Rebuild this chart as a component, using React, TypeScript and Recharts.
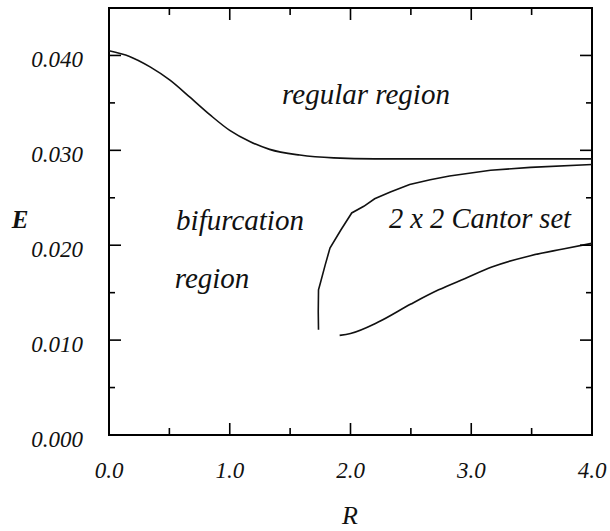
import { LineChart, Line, XAxis, YAxis, ReferenceArea } from "recharts";

// upper boundary (regular / bifurcation)
const regularEdge = [
  { R: 0.0, E: 0.0405 },
  { R: 0.17, E: 0.0399 },
  { R: 0.34, E: 0.0388 },
  { R: 0.505, E: 0.0374 },
  { R: 0.67, E: 0.0356 },
  { R: 0.84, E: 0.0337 },
  { R: 1.0, E: 0.0321 },
  { R: 1.17, E: 0.0309 },
  { R: 1.33, E: 0.0301 },
  { R: 1.58, E: 0.0295 },
  { R: 1.86, E: 0.0292 },
  { R: 2.2, E: 0.0291 },
  { R: 3.0, E: 0.0291 },
  { R: 4.0, E: 0.0291 },
];

// upper Cantor-set boundary
const cantorUpper = [
  { R: 1.735, E: 0.0111 },
  { R: 1.733, E: 0.013 },
  { R: 1.735, E: 0.0153 },
  { R: 1.75, E: 0.016 },
  { R: 1.79, E: 0.0179 },
  { R: 1.83, E: 0.0197 },
  { R: 1.92, E: 0.0216 },
  { R: 2.01, E: 0.0234 },
  { R: 2.11, E: 0.0241 },
  { R: 2.2, E: 0.0249 },
  { R: 2.33, E: 0.0256 },
  { R: 2.49, E: 0.0264 },
  { R: 2.66, E: 0.0269 },
  { R: 2.82, E: 0.0273 },
  { R: 3.16, E: 0.0279 },
  { R: 3.49, E: 0.0282 },
  { R: 4.0, E: 0.0285 },
];

// lower Cantor-set boundary
const cantorLower = [
  { R: 1.91, E: 0.0105 },
  { R: 2.0, E: 0.0107 },
  { R: 2.23, E: 0.0119 },
  { R: 2.5, E: 0.0138 },
  { R: 2.73, E: 0.0153 },
  { R: 2.95, E: 0.0165 },
  { R: 3.17, E: 0.0177 },
  { R: 3.49, E: 0.0189 },
  { R: 3.76, E: 0.0196 },
  { R: 4.0, E: 0.0202 },
];

const xTicks = [0, 0.5, 1, 1.5, 2, 2.5, 3, 3.5, 4];
const yTicks = [0, 0.005, 0.01, 0.015, 0.02, 0.025, 0.03, 0.035, 0.04];

const PLOT = { left: 109, right: 592, top: 8, bottom: 435 };
const FONT = "'Liberation Serif', 'DejaVu Serif', serif";

const XTick = (props: any) => {
  const { x, payload } = props;
  const v = payload.value;
  const major = Math.abs(v - Math.round(v)) < 1e-6;
  const len = major ? 12 : 7;
  return (
    <g>
      <line x1={x} x2={x} y1={PLOT.bottom} y2={PLOT.bottom - len} stroke="#000" strokeWidth={1.6} />
      <line x1={x} x2={x} y1={PLOT.top} y2={PLOT.top + len} stroke="#000" strokeWidth={1.6} />
      {major && (
        <text x={x} y={PLOT.bottom + 35} textAnchor="middle" dominantBaseline="central"
          fontFamily={FONT} fontStyle="italic" fontSize={23} fill="#111">
          {v.toFixed(1)}
        </text>
      )}
    </g>
  );
};

const YTick = (props: any) => {
  const { y, payload } = props;
  const v = payload.value;
  const major = Math.round(v * 1000) % 10 === 0;
  const len = major ? 12 : 6;
  return (
    <g>
      <line x1={PLOT.left} x2={PLOT.left + len} y1={y} y2={y} stroke="#000" strokeWidth={1.6} />
      <line x1={PLOT.right} x2={PLOT.right - len} y1={y} y2={y} stroke="#000" strokeWidth={1.6} />
      {major && (
        <text x={83} y={y + 4} textAnchor="end" dominantBaseline="central"
          fontFamily={FONT} fontStyle="italic" fontSize={23} fill="#111">
          {v.toFixed(3)}
        </text>
      )}
    </g>
  );
};

const Label = ({ x, y, size, bold, children }: any) => (
  <text x={x} y={y} textAnchor="middle" dominantBaseline="central" fontSize={size}
    fontFamily={FONT} fontStyle="italic" fontWeight={bold ? "bold" : "normal"} fill="#111">
    {children}
  </text>
);

export default function App() {
  return (
    <div style={{ position: "absolute", left: 0, top: 0, background: "#fff" }}>
      <LineChart width={610} height={531} margin={{ top: 8, right: 18, bottom: 0, left: 0 }}>
        <XAxis
          type="number"
          dataKey="R"
          domain={[0, 4]}
          ticks={xTicks}
          height={96}
          axisLine={false}
          tickLine={false}
          tick={XTick}
          interval={0}
        />
        <YAxis
          type="number"
          dataKey="E"
          domain={[0, 0.045]}
          ticks={yTicks}
          width={109}
          axisLine={false}
          tickLine={false}
          tick={YTick}
          interval={0}
        />
        <ReferenceArea x1={0} x2={4} y1={0} y2={0.045} fill="none" stroke="#000" strokeWidth={2} ifOverflow="visible" />
        <Line data={regularEdge} dataKey="E" type="monotone" stroke="#111" strokeWidth={1.6} dot={false} isAnimationActive={false} />
        <Line data={cantorUpper} dataKey="E" type="linear" stroke="#111" strokeWidth={1.6} dot={false} isAnimationActive={false} />
        <Line data={cantorLower} dataKey="E" type="monotone" stroke="#111" strokeWidth={1.6} dot={false} isAnimationActive={false} />
        <Label x={366} y={94} size={29}>regular region</Label>
        <Label x={240} y={220} size={29}>bifurcation</Label>
        <Label x={212} y={278} size={29}>region</Label>
        <Label x={480} y={218} size={28.5}>2 x 2 Cantor set</Label>
        <Label x={20} y={219} size={25} bold>E</Label>
        <Label x={350} y={515} size={26}>R</Label>
      </LineChart>
    </div>
  );
}
